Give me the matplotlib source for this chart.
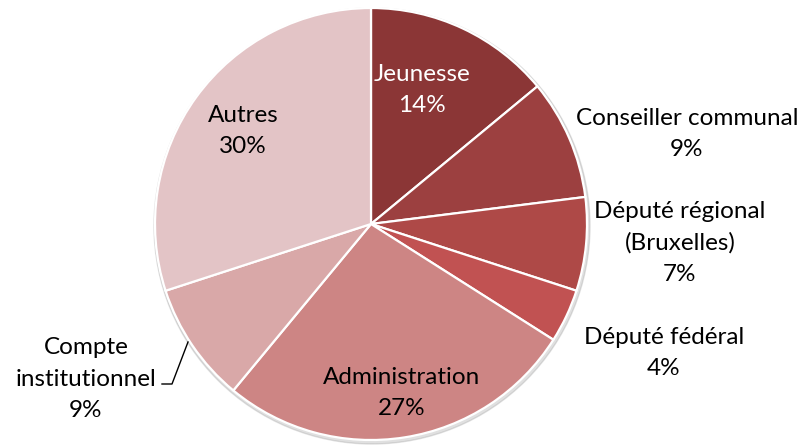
import matplotlib.pyplot as plt
from matplotlib.patches import Circle

categories = ['Jeunesse', 'Conseiller communal', 'Député régional\n(Bruxelles)',
              'Député fédéral', 'Administration', 'Compte\ninstitutionnel', 'Autres']
shares = [14, 9, 7, 4, 27, 9, 30]
colors = ['#8B3636', '#9C4040', '#AE4947', '#C15252', '#CD8584', '#D9A8A8', '#E3C4C6']

plt.rcParams['font.family'] = ['Lato', 'DejaVu Sans']

W, H = 803, 445
fig = plt.figure(figsize=(W / 100, H / 100), dpi=100)
ax = fig.add_axes([0, 0, 1, 1])

cx, cy, r = 371, H - 224, 216

# soft shadow under the pie
ax.add_patch(Circle((cx + 1, cy - 2), r + 2, color='#999999', alpha=0.3, zorder=0))

ax.pie(shares, colors=colors, startangle=90, counterclock=False,
       center=(cx, cy), radius=r, frame=True,
       wedgeprops=dict(edgecolor='white', linewidth=1.6))
ax.set_xlim(0, W)
ax.set_ylim(0, H)
ax.set_aspect('equal')
ax.axis('off')

# label positions (x, y from top), text colour
label_pos = [(422, 90, 'white'), (687, 134, 'black'), (680, 243, 'black'),
             (664, 353, 'black'), (402, 393, 'black'), (86, 379, 'black'),
             (243, 131, 'black')]
for name, val, (x, y, c) in zip(categories, shares, label_pos):
    ax.text(x, H - y, f'{name}\n{val}%', ha='center', va='center',
            fontsize=17.5, color=c, linespacing=1.62)

# leader line for the small slice on the left
ax.plot([162, 172, 188], [H - 384, H - 384, H - 342], color='black', lw=1)

fig.savefig('out.png', dpi=100)
